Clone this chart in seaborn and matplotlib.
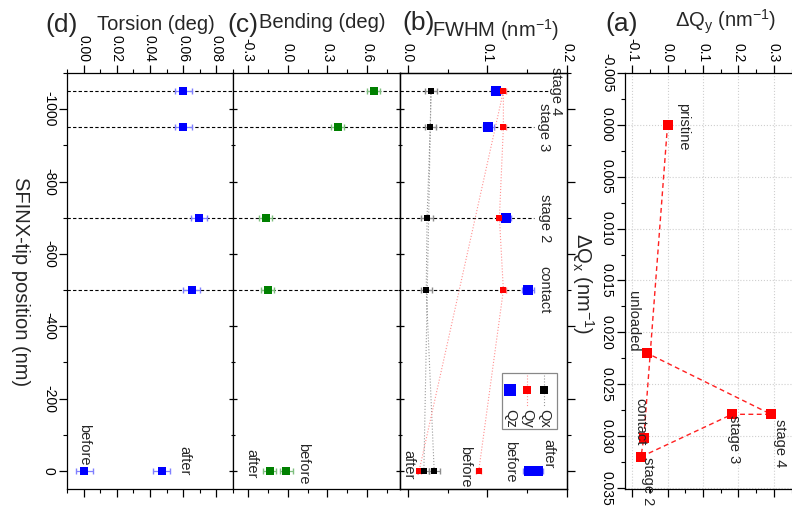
import matplotlib
matplotlib.use("Agg")
import matplotlib.pyplot as plt
import seaborn as sns
import pandas as pd
from matplotlib.patches import Rectangle
from matplotlib.ticker import MultipleLocator

sns.set_theme(style="ticks")
plt.rcParams["font.family"] = ["Liberation Sans", "DejaVu Sans"]
plt.rcParams["mathtext.fontset"] = "custom"
plt.rcParams["mathtext.rm"] = "Liberation Sans"
plt.rcParams["mathtext.it"] = "Liberation Sans:italic"
plt.rcParams["axes.unicode_minus"] = False
plt.rcParams["axes.edgecolor"] = "black"
plt.rcParams["axes.linewidth"] = 0.9

# ---------------- data ----------------
# Loading sequence along the SFINX tip scan (chronological order)
steps = ["before", "contact", "stage 2", "stage 3", "stage 4", "after"]
tip_position = [0, -500, -700, -950, -1050, 0]

torsion = [0.0005, 0.065, 0.0695, 0.060, 0.060, 0.047]
torsion_err = [0.005, 0.005, 0.005, 0.005, 0.005, 0.005]

bending = [-0.010, -0.150, -0.165, 0.376, 0.646, -0.135]
bending_err = [0.05, 0.05, 0.05, 0.05, 0.05, 0.05]

fwhm_qx = [0.033, 0.023, 0.024, 0.028, 0.029, 0.020]
fwhm_qy = [0.089, 0.120, 0.115, 0.120, 0.120, 0.014]
fwhm_qz = [0.152, 0.151, 0.123, 0.101, 0.111, 0.163]
fwhm_err_qx = [0.007, 0.007, 0.007, 0.007, 0.007, 0.007]
fwhm_err_qy = [0.003, 0.003, 0.003, 0.003, 0.003, 0.003]
fwhm_err_qz = [0.007, 0.007, 0.007, 0.007, 0.007, 0.007]

# Peak shift map
states = ["pristine", "contact", "stage 2", "stage 3", "stage 4", "unloaded"]
dq_y = [0.0, -0.067, -0.075, 0.182, 0.292, -0.058]
dq_x = [0.0, 0.0302, 0.0320, 0.0279, 0.0279, 0.0220]

# loaded stages marked by dashed guide lines
guide_steps = ["stage 4", "stage 3", "stage 2", "contact"]
guide_pos = [-1050, -950, -700, -500]

df = pd.DataFrame({"step": steps, "pos": tip_position,
                   "torsion": torsion, "bending": bending,
                   "qx": fwhm_qx, "qy": fwhm_qy, "qz": fwhm_qz})
dfa = pd.DataFrame({"state": states, "dqy": dq_y, "dqx": dq_x})

# ---------------- figure ----------------
W, H = 792, 508
fig = plt.figure(figsize=(W / 100, H / 100), dpi=100)


def box(x0, x1, y0=73, y1=489):
    return [x0 / W, 1 - y1 / H, (x1 - x0) / W, (y1 - y0) / H]


ax_d = fig.add_axes(box(67, 233))
ax_c = fig.add_axes(box(233, 400))
ax_b = fig.add_axes(box(400, 567))
ax_a = fig.add_axes(box(625, 792))

TFS = 10      # tick labels
AFS = 14.5    # axis titles
PFS = 19      # panel letters
LFS = 10.5    # annotations

pos_ticks = [-1000, -800, -600, -400, -200, 0]


def style_value_axis(ax, lim, ticks, fmt, minor, left_dir):
    ax.set_xlim(*lim)
    ax.set_ylim(50, -1100)
    ax.xaxis.tick_top()
    ax.set_xticks(ticks, [fmt % t for t in ticks], rotation=-90, fontsize=TFS)
    ax.xaxis.set_minor_locator(MultipleLocator(minor))
    ax.yaxis.set_minor_locator(MultipleLocator(100))
    ax.tick_params(axis="x", which="both", top=True, bottom=True,
                   labeltop=True, labelbottom=False, direction="out",
                   pad=2, colors="black")
    ax.tick_params(axis="x", which="major", length=6, width=0.9)
    ax.tick_params(axis="x", which="minor", length=3, width=0.8)
    ax.tick_params(axis="y", which="both", left=True, right=False,
                   direction=left_dir, colors="black")
    ax.tick_params(axis="y", which="major", length=6, width=0.9)
    ax.tick_params(axis="y", which="minor", length=3, width=0.8)
    ax.set_xlabel("")
    ax.set_ylabel("")
    for s in ax.spines.values():
        s.set_visible(True)


# ---- (d) torsion ----
style_value_axis(ax_d, (-0.01, 0.09), [0.00, 0.02, 0.04, 0.06, 0.08], "%.2f", 0.01, "out")
ax_d.set_yticks(pos_ticks, [str(t) for t in pos_ticks], rotation=-90, va="center", fontsize=TFS)
ax_d.tick_params(axis="y", pad=2)
for p in guide_pos:
    ax_d.axhline(p, color="black", lw=0.8, ls=(0, (3, 2)), zorder=1)
ax_d.errorbar(df["torsion"], df["pos"], xerr=torsion_err, fmt="none",
              ecolor="#8080ff", elinewidth=0.9, capsize=2, zorder=2)
sns.scatterplot(data=df, x="torsion", y="pos", ax=ax_d, marker="s", s=36,
                color="#0000ff", linewidth=0, zorder=3, legend=False)
ax_d.set_xlabel("")
ax_d.set_ylabel("")
ax_d.text(0.0003, -72, "before", rotation=-90, ha="center", va="center", fontsize=LFS)
ax_d.text(0.061, -28, "after", rotation=-90, ha="center", va="center", fontsize=LFS)

# ---- (c) bending ----
style_value_axis(ax_c, (-0.41, 0.845), [-0.3, 0.0, 0.3, 0.6], "%.1f", 0.15, "inout")
ax_c.set_yticks(pos_ticks, [])
for p in guide_pos:
    ax_c.axhline(p, color="black", lw=0.8, ls=(0, (3, 2)), zorder=1)
ax_c.errorbar(df["bending"], df["pos"], xerr=bending_err, fmt="none",
              ecolor="#7fbf7f", elinewidth=0.9, capsize=2, zorder=2)
sns.scatterplot(data=df, x="bending", y="pos", ax=ax_c, marker="s", s=36,
                color="#008000", linewidth=0, zorder=3, legend=False)
ax_c.set_xlabel("")
ax_c.set_ylabel("")
ax_c.text(0.12, -19, "before", rotation=-90, ha="center", va="center", fontsize=LFS)
ax_c.text(-0.27, -19, "after", rotation=-90, ha="center", va="center", fontsize=LFS)

# ---- (b) FWHM ----
style_value_axis(ax_b, (-0.01, 0.2), [0.0, 0.1, 0.2], "%.1f", 0.05, "inout")
ax_b.set_yticks(pos_ticks, [])
guide_end = [0.176, 0.158, 0.158, 0.158]
label_x = [0.186, 0.171, 0.172, 0.171]
for name, p, xe, xl in zip(guide_steps, guide_pos, guide_end, label_x):
    ax_b.hlines(p, -0.01, xe, color="black", lw=0.8, ls=(0, (3, 2)), zorder=1)
    ax_b.text(xl, p, name, rotation=-90, ha="center", va="center", fontsize=LFS)

sns.lineplot(data=df, x="qx", y="pos", ax=ax_b, sort=False, estimator=None,
             color="#9a9a9a", lw=0.8, ls=":", zorder=1)
sns.lineplot(data=df, x="qy", y="pos", ax=ax_b, sort=False, estimator=None,
             color="#ff9090", lw=0.8, ls=":", zorder=1)
for col, err, ec in [("qx", fwhm_err_qx, "#8c8c8c"), ("qy", fwhm_err_qy, "#ff8080"),
                     ("qz", fwhm_err_qz, "#8080ff")]:
    ax_b.errorbar(df[col], df["pos"], xerr=err, fmt="none", ecolor=ec,
                  elinewidth=0.9, capsize=2, zorder=2)
sns.scatterplot(data=df, x="qz", y="pos", ax=ax_b, marker="s", s=44,
                color="#0000ff", linewidth=0, zorder=3, legend=False)
sns.scatterplot(data=df, x="qy", y="pos", ax=ax_b, marker="s", s=22,
                color="#ff0000", linewidth=0, zorder=4, legend=False)
sns.scatterplot(data=df, x="qx", y="pos", ax=ax_b, marker="s", s=22,
                color="#000000", linewidth=0, zorder=4, legend=False)
ax_b.set_xlabel("")
ax_b.set_ylabel("")
ax_b.text(0.001, -17, "after", rotation=-90, ha="center", va="center", fontsize=LFS)
ax_b.text(0.072, -11, "before", rotation=-90, ha="center", va="center", fontsize=LFS)
ax_b.text(0.129, -25, "before", rotation=-90, ha="center", va="center", fontsize=LFS)
ax_b.text(0.177, -47, "after", rotation=-90, ha="center", va="center", fontsize=LFS)

# outward ticks on the right edge of (b)
ax_br = ax_b.twinx()
ax_br.set_ylim(50, -1100)
ax_br.set_yticks(pos_ticks, [])
ax_br.yaxis.set_minor_locator(MultipleLocator(100))
ax_br.tick_params(axis="y", which="both", right=True, left=False,
                  direction="out", colors="black")
ax_br.tick_params(axis="y", which="major", length=6, width=0.9)
ax_br.tick_params(axis="y", which="minor", length=3, width=0.8)

# legend (drawn by hand so the entries read along the rotated layout)
tb = ax_b.transAxes
ax_b.add_patch(Rectangle((0.61, 0.145), 0.33, 0.135, transform=tb,
                         facecolor="white", edgecolor="#888888", lw=0.9, zorder=5))
leg_items = [("Qz", "#0000ff", None, 0.659, 8), ("Qy", "#ff0000", "#ff9090", 0.760, 6),
             ("Qx", "#000000", "#9a9a9a", 0.862, 6)]
for name, mc, lc, lx, ms in leg_items:
    if lc is not None:
        ax_b.plot([lx, lx], [0.274, 0.200], transform=tb, color=lc, lw=0.8, ls=":", zorder=6)
    ax_b.plot([lx], [0.238], transform=tb, marker="s", ms=ms, color=mc, mew=0, zorder=7)
    ax_b.text(lx, 0.192, name, transform=tb, rotation=-90, ha="center", va="top",
              fontsize=LFS, zorder=7)

# ---- (a) peak shift ----
ax_a.set_xlim(-0.12, 0.351)
ax_a.set_ylim(0.0351, -0.005)
ax_a.xaxis.tick_top()
xa = [-0.1, 0.0, 0.1, 0.2, 0.3]
ya = [-0.005, 0.0, 0.005, 0.010, 0.015, 0.020, 0.025, 0.030, 0.035]
ax_a.set_xticks(xa, ["%.1f" % t for t in xa], rotation=-90, fontsize=TFS)
ax_a.set_yticks(ya, ["%.3f" % t for t in ya], rotation=-90, va="center", fontsize=TFS)
ax_a.xaxis.set_minor_locator(MultipleLocator(0.05))
ax_a.yaxis.set_minor_locator(MultipleLocator(0.0025))
ax_a.tick_params(axis="both", which="both", direction="out", colors="black")
ax_a.tick_params(axis="x", which="both", top=True, bottom=True, labeltop=True,
                 labelbottom=False, pad=2)
ax_a.tick_params(axis="y", which="both", left=True, right=False, pad=2)
ax_a.tick_params(which="major", length=6, width=0.9)
ax_a.tick_params(which="minor", length=3, width=0.8)
ax_a.grid(True, which="major", color="#cfcfcf", ls=":", lw=0.8)
ax_a.spines["right"].set_visible(False)
sns.lineplot(data=dfa, x="dqy", y="dqx", ax=ax_a, sort=False, estimator=None,
             color="#ff2020", lw=1.0, ls=(0, (3.5, 2.5)), zorder=2)
sns.scatterplot(data=dfa, x="dqy", y="dqx", ax=ax_a, marker="s", s=44,
                color="#ff0000", linewidth=0, zorder=3, legend=False)
ax_a.set_xlabel("")
ax_a.set_ylabel("")
a_label_xy = [(0.043, 0.0002), (-0.078, 0.0286), (-0.055, 0.0343),
              (0.187, 0.0303), (0.317, 0.0307), (-0.098, 0.0189)]
for name, (lx, ly) in zip(states, a_label_xy):
    ax_a.text(lx, ly, name, rotation=-90, ha="center", va="center",
              fontsize=LFS, clip_on=False)

# ---- titles and axis names ----
def ftext(x, y, s, **kw):
    fig.text(x / W, 1 - y / H, s, ha="center", va="center", **kw)


ftext(62, 25, "(d)", fontsize=PFS)
ftext(156, 24, "Torsion (deg)", fontsize=AFS)
ftext(243, 25, "(c)", fontsize=PFS)
ftext(322, 22, "Bending (deg)", fontsize=AFS)
ftext(419, 23, "(b)", fontsize=PFS)
ftext(496, 30, r"FWHM (nm$^{\mathregular{-1}}$)", fontsize=AFS)
ftext(622, 24, "(a)", fontsize=PFS)
ftext(726, 22, r"$\mathregular{\Delta}$Q$_{\mathregular{y}}$ (nm$^{\mathregular{-1}}$)", fontsize=AFS)
ftext(20, 282, "SFINX-tip position (nm)", fontsize=AFS, rotation=-90)
ftext(583, 284, r"$\mathregular{\Delta}$Q$_{\mathregular{x}}$ (nm$^{\mathregular{-1}}$)",
      fontsize=AFS, rotation=-90)

fig.savefig("out.png", dpi=100, facecolor="white")
